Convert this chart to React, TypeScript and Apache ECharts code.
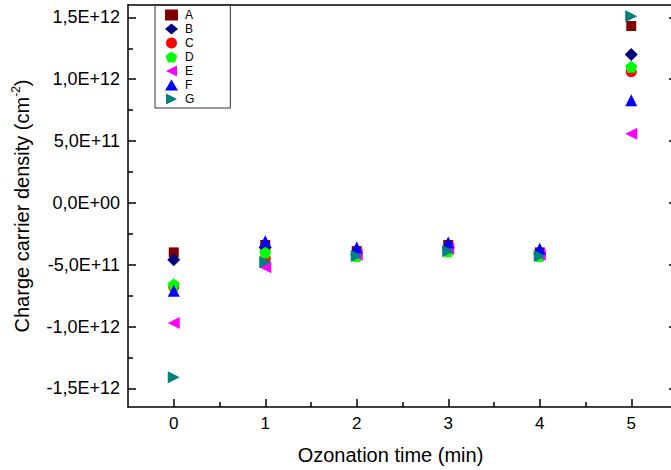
import React, { useEffect, useRef } from "react";
import * as echarts from "echarts";

const times = [0, 1, 2, 3, 4, 5];
const seriesNames = ["A", "B", "C", "D", "E", "F", "G"];
const valuesA = [-4.0e11, -3.4e11, -3.9e11, -3.4e11, -4.0e11, 1.43e12];
const valuesB = [-4.6e11, -3.6e11, -4.2e11, -3.6e11, -4.1e11, 1.2e12];
const valuesC = [-6.8e11, -4.5e11, -4.1e11, -3.8e11, -4.2e11, 1.06e12];
const valuesD = [-6.6e11, -4.0e11, -4.3e11, -3.9e11, -4.3e11, 1.1e12];
const valuesE = [-9.7e11, -5.2e11, -4.2e11, -3.7e11, -4.2e11, 5.6e11];
const valuesF = [-7.1e11, -3.1e11, -3.6e11, -3.2e11, -3.7e11, 8.3e11];
const valuesG = [-1.41e12, -4.8e11, -4.3e11, -3.9e11, -4.3e11, 1.51e12];

const xMajorTicks = [0, 1, 2, 3, 4, 5];
const xMinorTicks = [0.5, 1.5, 2.5, 3.5, 4.5];
const yMajorTicks = [-1.5e12, -1.0e12, -5e11, 0, 5e11, 1.0e12, 1.5e12];
const yMinorTicks = [-1.25e12, -7.5e11, -2.5e11, 2.5e11, 7.5e11, 1.25e12];

const FONT = "'Liberation Sans', Arial, sans-serif";

function fmtSci(v: number): string {
  if (v === 0) return "0,0E+00";
  const sign = v < 0 ? "-" : "";
  const a = Math.abs(v);
  let e = Math.floor(Math.log10(a) + 1e-9);
  let m = a / Math.pow(10, e);
  if (m >= 9.95) {
    m /= 10;
    e += 1;
  }
  const es = (e < 0 ? "-" : "+") + String(Math.abs(e)).padStart(2, "0");
  return sign + m.toFixed(1).replace(".", ",") + "E" + es;
}

const pentagon = "path://M5,0 L10,3.63 L8.09,9.51 L1.91,9.51 L0,3.63 Z";
const leftTri = "path://M0,5 L10,0 L10,10 Z";
const rightTri = "path://M10,5 L0,0 L0,10 Z";

export default function App() {
  const ref = useRef<HTMLDivElement>(null);
  useEffect(() => {
    if (!ref.current) return;
    const chart = echarts.init(ref.current, undefined, { renderer: "svg" });
    const allValues = [valuesA, valuesB, valuesC, valuesD, valuesE, valuesF, valuesG];
    const symbols = ["rect", "diamond", "circle", pentagon, leftTri, "triangle", rightTri];
    const sizes = [10, 13, 11, 12, 12, 12, 12];
    const colors = ["#800000", "#000080", "#FF0000", "#00FF00", "#FF00FF", "#0000FF", "#008080"];
    const axisLineStyle = { color: "#000", width: 1.5 };
    const series = seriesNames.map((name, i) => ({
      name,
      type: "scatter",
      xAxisIndex: 0,
      yAxisIndex: 0,
      symbol: symbols[i],
      symbolSize: sizes[i],
      itemStyle: { color: colors[i], opacity: 1 },
      data: times.map((t, j) => [t, allValues[i][j]]),
    }));
    const xRange = { type: "value", min: -0.5, max: 5.5, splitLine: { show: false } };
    const yRange = { type: "value", min: -1.65e12, max: 1.6e12, splitLine: { show: false } };
    chart.setOption({
      animation: false,
      backgroundColor: "#fff",
      grid: { left: 128, right: 1, top: 5, bottom: 61 },
      legend: {
        data: seriesNames,
        orient: "vertical",
        left: 155,
        top: 5,
        itemWidth: 13,
        itemHeight: 11,
        itemGap: 2,
        padding: [4, 36, 3, 10],
        borderColor: "#333",
        borderWidth: 1,
        textStyle: { fontSize: 12, fontFamily: FONT, color: "#000", padding: [0, 0, 0, 2] },
      },
      xAxis: [
        {
          ...xRange,
          position: "bottom",
          axisLine: { show: true, onZero: false, lineStyle: axisLineStyle },
          axisTick: { show: true, inside: true, length: 8, customValues: xMajorTicks, lineStyle: axisLineStyle },
          axisLabel: { show: true, customValues: xMajorTicks, fontSize: 17, fontFamily: FONT, color: "#000", margin: 8 },
          name: "Ozonation time (min)",
          nameLocation: "middle",
          nameGap: 38,
          nameTextStyle: { fontSize: 20, fontFamily: FONT, color: "#000", padding: [0, 24, 0, 0] },
        },
        {
          ...xRange,
          position: "bottom",
          axisLine: { show: false, onZero: false },
          axisTick: { show: true, inside: true, length: 5, customValues: xMinorTicks, lineStyle: axisLineStyle },
          axisLabel: { show: false },
        },
        {
          ...xRange,
          position: "top",
          axisLine: { show: true, onZero: false, lineStyle: axisLineStyle },
          axisTick: { show: false },
          axisLabel: { show: false },
        },
      ],
      yAxis: [
        {
          ...yRange,
          position: "left",
          axisLine: { show: true, onZero: false, lineStyle: axisLineStyle },
          axisTick: { show: true, inside: true, length: 8, customValues: yMajorTicks, lineStyle: axisLineStyle },
          axisLabel: {
            show: true,
            customValues: yMajorTicks,
            fontSize: 18,
            fontFamily: FONT,
            color: "#000",
            margin: 8,
            formatter: (v: number) => fmtSci(v),
          },
          name: "Charge carrier density (cm{sup|-2})",
          nameLocation: "middle",
          nameGap: 94,
          nameTextStyle: {
            fontSize: 20,
            fontFamily: FONT,
            color: "#000",
            lineHeight: 24,
            rich: {
              sup: { fontSize: 12, fontFamily: FONT, color: "#000", verticalAlign: "top", lineHeight: 24 },
            },
          },
        },
        {
          ...yRange,
          position: "left",
          axisLine: { show: false, onZero: false },
          axisTick: { show: true, inside: true, length: 5, customValues: yMinorTicks, lineStyle: axisLineStyle },
          axisLabel: { show: false },
        },
        {
          ...yRange,
          position: "right",
          axisLine: { show: true, onZero: false, lineStyle: axisLineStyle },
          axisTick: { show: true, inside: true, length: 8, customValues: yMajorTicks, lineStyle: axisLineStyle },
          axisLabel: { show: false },
        },
        {
          ...yRange,
          position: "right",
          axisLine: { show: false, onZero: false },
          axisTick: { show: true, inside: true, length: 5, customValues: yMinorTicks, lineStyle: axisLineStyle },
          axisLabel: { show: false },
        },
      ],
      series,
    });
    return () => chart.dispose();
  }, []);
  return (
    <div
      style={{ position: "fixed", left: 0, top: 0, width: 671, height: 470, overflow: "hidden", background: "#fff" }}
    >
      <div ref={ref} style={{ position: "absolute", left: 0, top: 0, width: 678, height: 470 }} />
    </div>
  );
}
